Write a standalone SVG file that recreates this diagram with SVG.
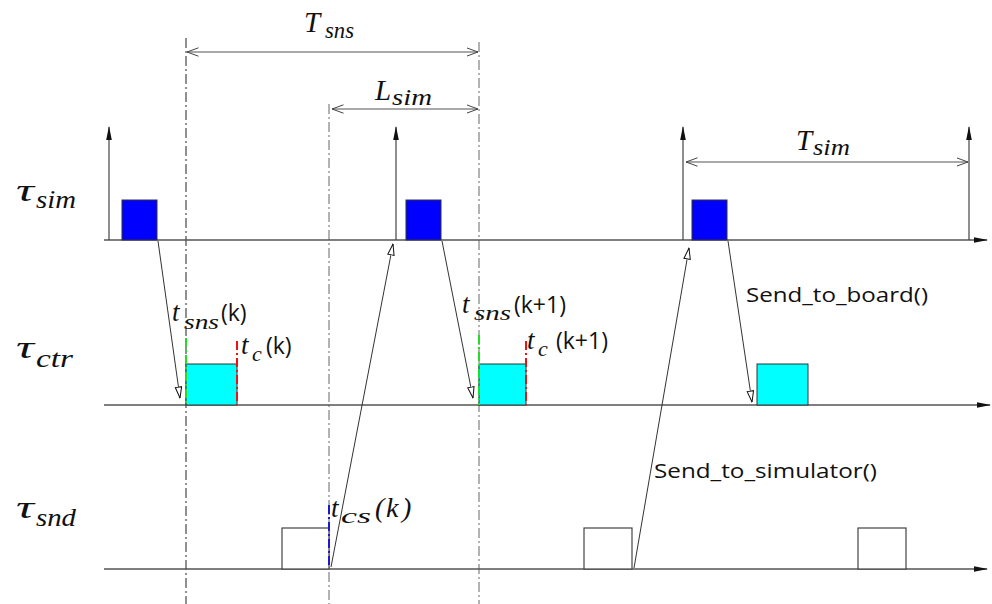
<svg xmlns="http://www.w3.org/2000/svg" width="992" height="604" viewBox="0 0 992 604">
<defs>
<marker id="fill" viewBox="0 0 14 8" refX="13" refY="4" markerWidth="14" markerHeight="8" markerUnits="userSpaceOnUse" orient="auto">
<path d="M0,1.2 L14,4 L0,6.8 Z" fill="#111"/>
</marker>
<marker id="open" viewBox="0 0 12 8" refX="11.5" refY="4" markerWidth="12" markerHeight="8" markerUnits="userSpaceOnUse" orient="auto">
<path d="M0.5,0.8 L11.5,4 L0.5,7.2 Z" fill="#fff" stroke="#111" stroke-width="1"/>
</marker>
<marker id="chev" viewBox="0 0 12 10" refX="11.5" refY="5" markerWidth="12" markerHeight="10" markerUnits="userSpaceOnUse" orient="auto-start-reverse">
<path d="M0,0.8 L11.5,5 L0,9.2" fill="none" stroke="#444" stroke-width="1"/>
</marker>
</defs>
<style>
.axis{stroke:#555;stroke-width:1.6;fill:none}
.up{stroke:#444;stroke-width:1.2;fill:none}
.dd{stroke:#666;stroke-width:1;stroke-dasharray:10 3 2 3;fill:none}
.dd1{stroke:#222;stroke-width:1;stroke-dasharray:10 3 2 3;fill:none}
.dim{stroke:#555;stroke-width:1.2;fill:none}
.conn{stroke:#333;stroke-width:1;fill:none}
.blue{fill:#0000ff;stroke:#333;stroke-width:1}
.cyan{fill:#00ffff;stroke:#333;stroke-width:1}
.white{fill:#fff;stroke:#444;stroke-width:1.2}
.g{stroke:#22dd22;stroke-width:2;stroke-dasharray:9 3 2 3;fill:none}
.r{stroke:#ee1111;stroke-width:2;stroke-dasharray:9 3 2 3;fill:none}
.b{stroke:#1a1acc;stroke-width:2;stroke-dasharray:9 3 2 3;fill:none}
.m{font-family:"Liberation Serif","Times New Roman",serif;font-style:italic;fill:#111}
.s{font-family:"Open Sans","Noto Sans",sans-serif;fill:#111}
</style>
<rect width="992" height="604" fill="#fff"/>

<g id="guides">
<line class="dd1" x1="186" y1="38" x2="186" y2="604"/>
<line class="dd" x1="329" y1="104" x2="329" y2="604"/>
<line class="dd" x1="479" y1="42" x2="479" y2="604"/>
</g>

<g id="axes">
<line class="axis" x1="104" y1="240" x2="987" y2="240" marker-end="url(#fill)"/>
<line class="axis" x1="104" y1="405" x2="990" y2="405" marker-end="url(#fill)"/>
<line class="axis" x1="104" y1="569" x2="987" y2="569" marker-end="url(#fill)"/>
<line class="up" x1="109" y1="240" x2="109" y2="127" marker-end="url(#fill)"/>
<line class="up" x1="396" y1="240" x2="396" y2="127" marker-end="url(#fill)"/>
<line class="up" x1="683" y1="240" x2="683" y2="127" marker-end="url(#fill)"/>
<line class="up" x1="969" y1="240" x2="969" y2="127" marker-end="url(#fill)"/>
</g>

<g id="dimensions">
<line class="dim" x1="187" y1="52" x2="478" y2="52" marker-start="url(#chev)" marker-end="url(#chev)"/>
<line class="dim" x1="332" y1="109" x2="478" y2="109" marker-start="url(#chev)" marker-end="url(#chev)"/>
<line class="dim" x1="686" y1="162" x2="968" y2="162" marker-start="url(#chev)" marker-end="url(#chev)"/>
</g>

<g id="sim-tasks">
<rect id="sim1" class="blue" x="122" y="200" width="35" height="40"/>
<rect id="sim2" class="blue" x="406" y="200" width="35" height="40"/>
<rect id="sim3" class="blue" x="692" y="200" width="35" height="40"/>
</g>
<g id="ctr-tasks">
<rect id="ctr1" class="cyan" x="186" y="364" width="51" height="41"/>
<rect id="ctr2" class="cyan" x="479" y="364" width="47" height="41"/>
<rect id="ctr3" class="cyan" x="757" y="364" width="51" height="41"/>
</g>
<g id="snd-tasks">
<rect id="snd1" class="white" x="282" y="528" width="47" height="41"/>
<rect id="snd2" class="white" x="584" y="528" width="48" height="41"/>
<rect id="snd3" class="white" x="858" y="528" width="48" height="41"/>
</g>

<g id="markers">
<line class="g" x1="186" y1="338" x2="186" y2="405"/>
<line class="r" x1="237" y1="341" x2="237" y2="405"/>
<line class="g" x1="479" y1="335" x2="479" y2="405"/>
<line class="r" x1="526" y1="341" x2="526" y2="405"/>
<line class="b" x1="329" y1="505" x2="329" y2="568"/>
</g>

<g id="connectors">
<line class="conn" x1="158" y1="241" x2="180" y2="398" marker-end="url(#open)"/>
<line class="conn" x1="331" y1="567" x2="393" y2="244" marker-end="url(#open)"/>
<line class="conn" x1="442" y1="241" x2="473" y2="398" marker-end="url(#open)"/>
<line class="conn" x1="634" y1="568" x2="689" y2="248" marker-end="url(#open)"/>
<line class="conn" x1="728" y1="241" x2="752" y2="402" marker-end="url(#open)"/>
</g>

<g id="labels">
<text class="m" font-size="32" x="16" y="201" textLength="18" lengthAdjust="spacingAndGlyphs">τ</text>
<text class="m" font-size="25" x="36" y="208" textLength="40" lengthAdjust="spacingAndGlyphs">sim</text>
<text class="m" font-size="32" x="16" y="358" textLength="18" lengthAdjust="spacingAndGlyphs">τ</text>
<text class="m" font-size="25" x="36" y="367" textLength="37" lengthAdjust="spacingAndGlyphs">ctr</text>
<text class="m" font-size="32" x="16" y="518" textLength="18" lengthAdjust="spacingAndGlyphs">τ</text>
<text class="m" font-size="25" x="36" y="526" textLength="40" lengthAdjust="spacingAndGlyphs">snd</text>

<text class="m" font-size="29" x="304" y="32">T</text>
<text class="m" font-size="24" x="325" y="38" textLength="29" lengthAdjust="spacingAndGlyphs">sns</text>
<text class="m" font-size="29" x="375" y="100">L</text>
<text class="m" font-size="23" x="392" y="105" textLength="40" lengthAdjust="spacingAndGlyphs">sim</text>
<text class="m" font-size="29" x="796" y="150">T</text>
<text class="m" font-size="23" x="813" y="155" textLength="37" lengthAdjust="spacingAndGlyphs">sim</text>

<text class="m" font-size="27" x="172" y="321">t</text>
<text class="m" font-size="22" x="184" y="329" textLength="35" lengthAdjust="spacingAndGlyphs">sns</text>
<text class="s" font-size="23" x="221" y="321">(k)</text>
<text class="m" font-size="27" x="241" y="354">t</text>
<text class="m" font-size="22" x="252" y="361">c</text>
<text class="s" font-size="23" x="266" y="354">(k)</text>

<text class="m" font-size="27" x="462" y="313">t</text>
<text class="m" font-size="22" x="474" y="320" textLength="37" lengthAdjust="spacingAndGlyphs">sns</text>
<text class="s" font-size="23" x="514" y="313">(k+1)</text>
<text class="m" font-size="27" x="527" y="349">t</text>
<text class="m" font-size="22" x="538" y="356">c</text>
<text class="s" font-size="23" x="556" y="349">(k+1)</text>

<text class="m" font-size="27" x="331" y="517">t</text>
<text class="m" font-size="22" x="341" y="523" textLength="30" lengthAdjust="spacingAndGlyphs">cs</text>
<text class="m" font-size="28" x="375" y="517" font-style="normal">(</text>
<text class="m" font-size="28" x="386" y="517">k</text>
<text class="m" font-size="28" x="402" y="517" font-style="normal">)</text>

<text class="s" font-size="19.5" x="746" y="302" textLength="182" lengthAdjust="spacingAndGlyphs">Send_to_board()</text>
<text class="s" font-size="19.5" x="654" y="478" textLength="223" lengthAdjust="spacingAndGlyphs">Send_to_simulator()</text>
</g>
</svg>
